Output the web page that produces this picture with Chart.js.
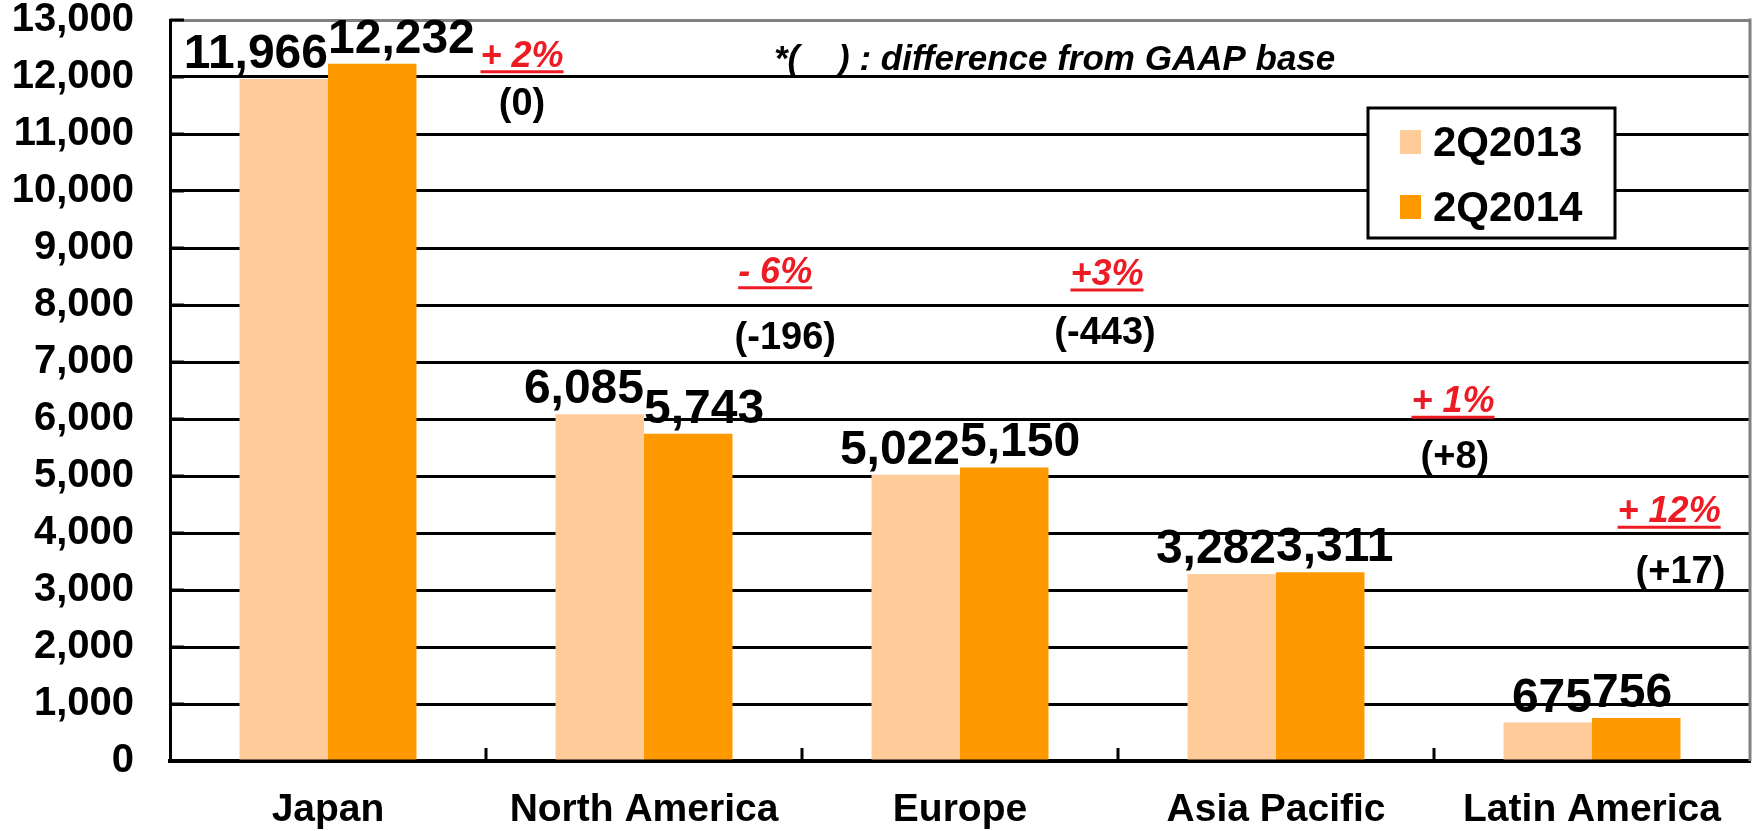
<!DOCTYPE html>
<html>
<head>
<meta charset="utf-8">
<script src="https://cdn.jsdelivr.net/npm/chart.js@4.4.1/dist/chart.umd.min.js"></script>
<style>
  html, body { margin: 0; padding: 0; background: #fff; overflow: hidden; }
</style>
</head>
<body>
<canvas id="salesChart" width="1752" height="831"></canvas>
<script>
const regions = ['Japan', 'North America', 'Europe', 'Asia Pacific', 'Latin America'];
const sales2013 = [11966, 6085, 5022, 3282, 675];
const sales2014 = [12232, 5743, 5150, 3311, 756];
const seriesNames = ['2Q2013', '2Q2014'];
const growthLabels = ['+ 2%', '- 6%', '+3%', '+ 1%', '+ 12%'];
const gaapDiffLabels = ['(0)', '(-196)', '(-443)', '(+8)', '(+17)'];
const noteText = '*(    ) : difference from GAAP base';

const Y_MIN = 0, Y_MAX = 13000, Y_STEP = 1000;
const FONT = '"Liberation Sans", Arial, Helvetica, sans-serif';
const LIGHT = '#FFCC99';
const DARK = '#FF9900';
const RED = '#ED1C24';

// where the notes sit, in (category index, value) units
const growthPos = [[0.614, 12180], [1.415, 8390], [2.465, 8350], [3.56, 6120], [4.244, 4190]];
const diffPos = [[0.614, 11330], [1.447, 7230], [2.459, 7320], [3.566, 5140], [4.28, 3120]];
const notePos = [1.411, 12120];

const extras = {
    id: 'extras',
    afterDatasetsDraw(chart) {
        const ctx = chart.ctx;
        const xs = chart.scales.x, ys = chart.scales.y;
        const area = chart.chartArea;
        ctx.save();

        // grey right border
        ctx.strokeStyle = '#808080';
        ctx.lineWidth = 3;
        ctx.beginPath();
        ctx.moveTo(area.right, area.top - 1.5);
        ctx.lineTo(area.right, area.bottom);
        ctx.stroke();

        // small inward ticks: between categories and on the value axis
        ctx.strokeStyle = '#000';
        ctx.lineWidth = 3;
        for (let i = 1; i < regions.length; i++) {
            const px = (xs.getPixelForValue(i - 1) + xs.getPixelForValue(i)) / 2;
            ctx.beginPath();
            ctx.moveTo(px, area.bottom);
            ctx.lineTo(px, area.bottom - 13);
            ctx.stroke();
        }
        ys.ticks.forEach(function(t) {
            const py = ys.getPixelForValue(t.value);
            ctx.beginPath();
            ctx.moveTo(area.left, py);
            ctx.lineTo(area.left + 14, py);
            ctx.stroke();
        });

        // value labels: 2013 flush right to its bar, 2014 flush left
        ctx.fillStyle = '#000';
        ctx.font = 'bold 48px ' + FONT;
        ctx.textBaseline = 'alphabetic';
        chart.data.datasets.forEach(function(ds, d) {
            const meta = chart.getDatasetMeta(d);
            meta.data.forEach(function(bar, i) {
                const txt = ds.data[i].toLocaleString('en-US');
                if (d === 0) {
                    ctx.textAlign = 'right';
                    ctx.fillText(txt, bar.x + bar.width / 2, bar.y - 11);
                } else {
                    ctx.textAlign = 'left';
                    ctx.fillText(txt, bar.x - bar.width / 2, bar.y - 11);
                }
            });
        });

        // growth % (red, underlined) and GAAP difference
        ctx.textAlign = 'center';
        for (let i = 0; i < growthLabels.length; i++) {
            let gx = xs.getPixelForValue(growthPos[i][0]);
            let gy = ys.getPixelForValue(growthPos[i][1]);
            ctx.font = 'italic bold 36px ' + FONT;
            ctx.fillStyle = RED;
            ctx.fillText(growthLabels[i], gx, gy);
            const w = ctx.measureText(growthLabels[i]).width;
            ctx.strokeStyle = RED;
            ctx.lineWidth = 3;
            ctx.beginPath();
            ctx.moveTo(gx - w / 2, gy + 5);
            ctx.lineTo(gx + w / 2, gy + 5);
            ctx.stroke();

            ctx.font = 'bold 38px ' + FONT;
            ctx.fillStyle = '#000';
            ctx.fillText(gaapDiffLabels[i], xs.getPixelForValue(diffPos[i][0]), ys.getPixelForValue(diffPos[i][1]));
        }

        ctx.font = 'italic bold 35px ' + FONT;
        ctx.textAlign = 'left';
        ctx.fillText(noteText, xs.getPixelForValue(notePos[0]), ys.getPixelForValue(notePos[1]));

        // legend box
        const bx = 1368, by = 108, bw = 247, bh = 130;
        ctx.fillStyle = '#fff';
        ctx.fillRect(bx, by, bw, bh);
        ctx.strokeStyle = '#000';
        ctx.lineWidth = 3;
        ctx.strokeRect(bx, by, bw, bh);
        ctx.font = 'bold 42px ' + FONT;
        ctx.textBaseline = 'middle';
        chart.data.datasets.forEach(function(ds, d) {
            const cy = by + 34 + d * 65;
            ctx.fillStyle = ds.backgroundColor;
            ctx.fillRect(bx + 32, cy - 12, 21, 24);
            ctx.fillStyle = '#000';
            ctx.fillText(ds.label, bx + 65, cy + 2);
        });

        ctx.restore();
    }
};

const ctx = document.getElementById('salesChart').getContext('2d');

new Chart(ctx, {
    type: 'bar',
    data: {
        labels: regions,
        datasets: [
            { label: seriesNames[0], data: sales2013, backgroundColor: LIGHT },
            { label: seriesNames[1], data: sales2014, backgroundColor: DARK }
        ]
    },
    options: {
        responsive: false,
        animation: false,
        locale: 'en-US',
        layout: { padding: { top: 20, right: 2, left: 0, bottom: 0 } },
        datasets: { bar: { barPercentage: 1, categoryPercentage: 0.56 } },
        plugins: {
            legend: { display: false },
            tooltip: { enabled: false }
        },
        scales: {
            x: {
                grid: { display: false, drawTicks: false },
                border: { display: true, color: '#000', width: 4 },
                ticks: {
                    color: '#000',
                    padding: 26,
                    font: { family: FONT, size: 39, weight: 'bold' }
                },
                afterFit: function(scale) {
                    scale.height = 70;
                    scale.paddingLeft = 0;
                    scale.paddingRight = 0;
                }
            },
            y: {
                min: Y_MIN,
                max: Y_MAX,
                grid: {
                    drawTicks: false,
                    lineWidth: 3,
                    color: function(c) { return c.tick && c.tick.value === Y_MAX ? '#808080' : '#000'; }
                },
                border: { display: true, color: '#000', width: 3 },
                ticks: {
                    stepSize: Y_STEP,
                    color: '#000',
                    padding: 36,
                    font: { family: FONT, size: 40, weight: 'bold' }
                },
                afterFit: function(scale) {
                    scale.width = 170;
                    scale.paddingTop = 0;
                    scale.paddingBottom = 0;
                }
            }
        }
    },
    plugins: [extras]
});
</script>
</body>
</html>
